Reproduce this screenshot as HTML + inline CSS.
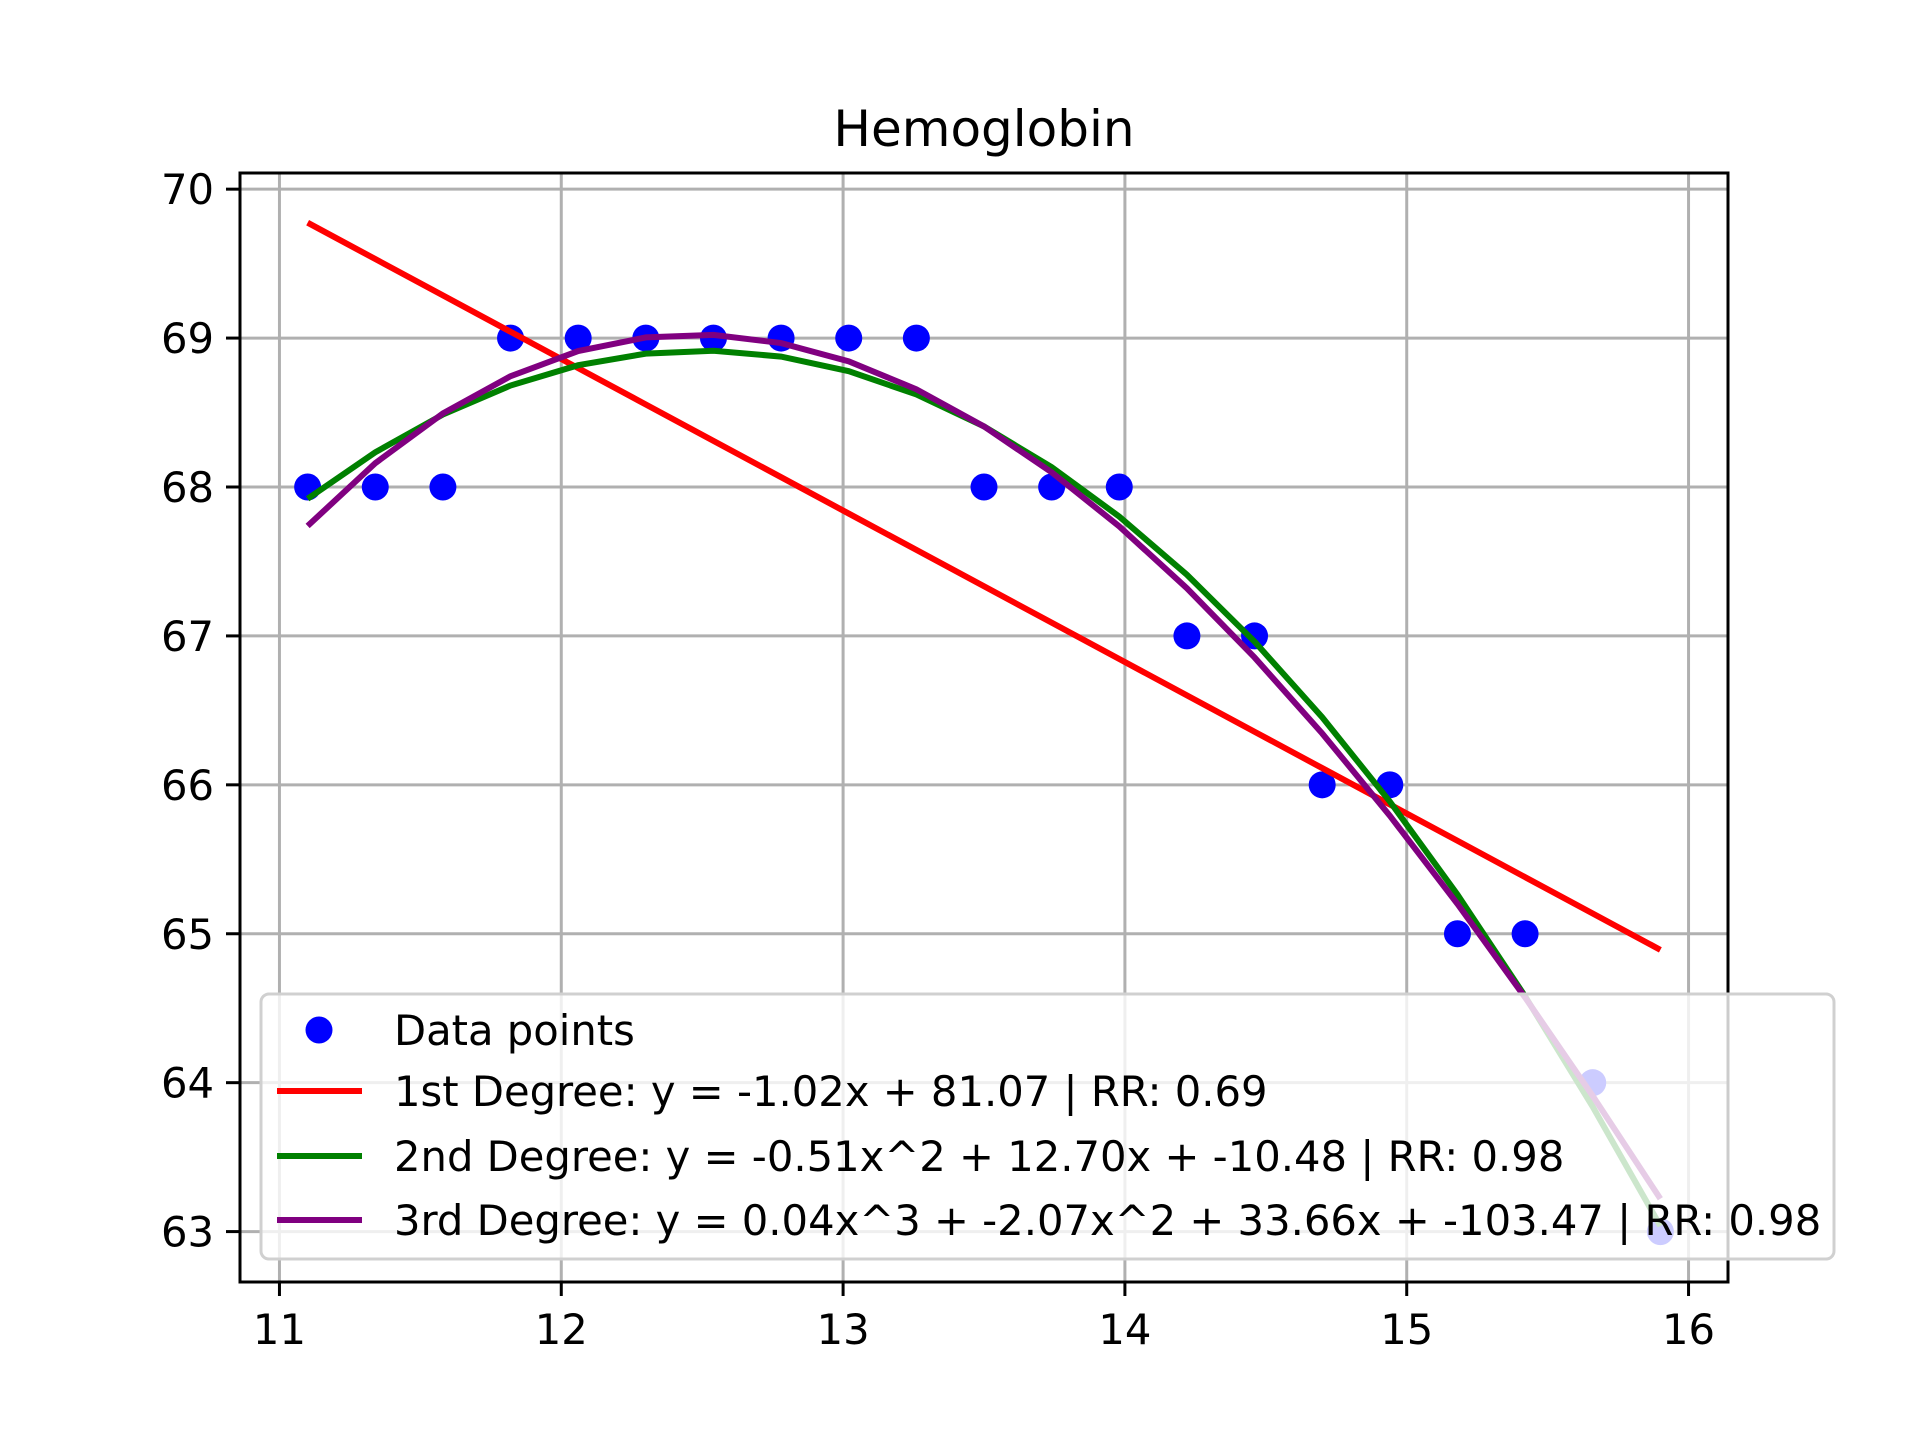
<!DOCTYPE html>
<html><head><meta charset="utf-8"><style>
html,body{margin:0;padding:0;background:#fff;}
svg{display:block;font-family:"DejaVu Sans","Liberation Sans",sans-serif;}
</style></head><body>
<svg id="chart" width="1920" height="1440" viewBox="0 0 1920 1440" xmlns="http://www.w3.org/2000/svg">
<rect width="1920" height="1440" fill="#fff"/>
<g id="grid"></g>
<g id="series"></g>
<rect x="240" y="173" width="1488" height="1109" fill="none" stroke="#000" stroke-width="3"/>
<g id="ticks"></g>
<text x="984" y="146" text-anchor="middle" font-size="50" fill="#000">Hemoglobin</text>
<g id="legend"></g>
</svg>
<script>
const xValues=[11.1,11.34,11.58,11.82,12.06,12.3,12.54,12.78,13.02,13.26,13.5,13.74,13.98,14.22,14.46,14.7,14.94,15.18,15.42,15.66,15.9];
const yValues=[68,68,68,69,69,69,69,69,69,69,68,68,68,67,67,66,66,65,65,64,63];
const xTicks=[11,12,13,14,15,16];
const yTicks=[63,64,65,66,67,68,69,70];
const legendLabels=["Data points","1st Degree: y = -1.02x + 81.07 | RR: 0.69","2nd Degree: y = -0.51x^2 + 12.70x + -10.48 | RR: 0.98","3rd Degree: y = 0.04x^3 + -2.07x^2 + 33.66x + -103.47 | RR: 0.98"];
const fitColors=["red","green","purple"];

const NS="http://www.w3.org/2000/svg";
const L=240,R=1728,T=173,B=1282;
const xMin=10.86,xMax=16.14,yMin=62.6615,yMax=70.1085;
const sx=v=>L+(v-xMin)/(xMax-xMin)*(R-L);
const sy=v=>B-(v-yMin)/(yMax-yMin)*(B-T);
function mk(tag,attrs,parent){const e=document.createElementNS(NS,tag);for(const k in attrs)e.setAttribute(k,attrs[k]);parent.appendChild(e);return e;}

function polyfit(xs,ys,deg){
  const n=deg+1,A=[];
  for(let i=0;i<n;i++){A.push([]);for(let j=0;j<n;j++){let s=0;for(const x of xs)s+=Math.pow(x,i+j);A[i].push(s);}
    let s=0;xs.forEach((x,k)=>s+=ys[k]*Math.pow(x,i));A[i].push(s);}
  for(let i=0;i<n;i++){let p=i;for(let r=i+1;r<n;r++)if(Math.abs(A[r][i])>Math.abs(A[p][i]))p=r;[A[i],A[p]]=[A[p],A[i]];
    for(let r=0;r<n;r++){if(r===i)continue;const f=A[r][i]/A[i][i];for(let c=i;c<=n;c++)A[r][c]-=f*A[i][c];}}
  return A.map((row,i)=>row[n]/row[i]);
}
const grid=document.getElementById('grid'),ticks=document.getElementById('ticks'),series=document.getElementById('series'),legend=document.getElementById('legend');
xTicks.forEach(t=>{
  let g=mk('line',{x1:sx(t),x2:sx(t),y1:T,y2:B,stroke:'#b0b0b0','stroke-width':3},grid);
  
  let tk=mk('line',{x1:sx(t),x2:sx(t),y1:B,y2:B+14,stroke:'#000','stroke-width':3},ticks);
  
  let tx=mk('text',{x:sx(t),y:B+62,'text-anchor':'middle','font-size':41.7,fill:'#000'},ticks);tx.textContent=t;
  
});
yTicks.forEach(t=>{
  let g=mk('line',{x1:L,x2:R,y1:sy(t),y2:sy(t),stroke:'#b0b0b0','stroke-width':3},grid);
  
  let tk=mk('line',{x1:L-14,x2:L,y1:sy(t),y2:sy(t),stroke:'#000','stroke-width':3},ticks);
  
  let tx=mk('text',{x:L-26,y:sy(t)+15,'text-anchor':'end','font-size':41.7,fill:'#000'},ticks);tx.textContent=t;
  
});
xValues.forEach((x,i)=>{
  let c=mk('circle',{cx:sx(x),cy:sy(yValues[i]),r:13.5,fill:'blue'},series);
  
});
[1,2,3].forEach((d,k)=>{
  const co=polyfit(xValues,yValues,d);
  const pts=xValues.map(x=>{let y=0;co.forEach((c,i)=>y+=c*Math.pow(x,i));return sx(x)+','+sy(y);}).join(' ');
  let p=mk('polyline',{points:pts,fill:'none',stroke:fitColors[k],'stroke-width':6},series);
  
});
let box=mk('rect',{x:261,y:994,width:1573,height:265,rx:8,fill:'rgba(255,255,255,0.8)',stroke:'#d0d0d0','stroke-width':3},legend);

const rowY=[1030,1091,1156,1220];
legendLabels.forEach((lab,i)=>{
  if(i===0){let c=mk('circle',{cx:319,cy:rowY[i],r:13.5,fill:'blue'},legend);
    }
  else{let l=mk('line',{x1:277,x2:362,y1:rowY[i],y2:rowY[i],stroke:fitColors[i-1],'stroke-width':6},legend);
    }
  let t=mk('text',{x:394,y:rowY[i]+15,'font-size':41.7,fill:'#000'},legend);t.textContent=lab;
  
});
</script>
</body></html>
